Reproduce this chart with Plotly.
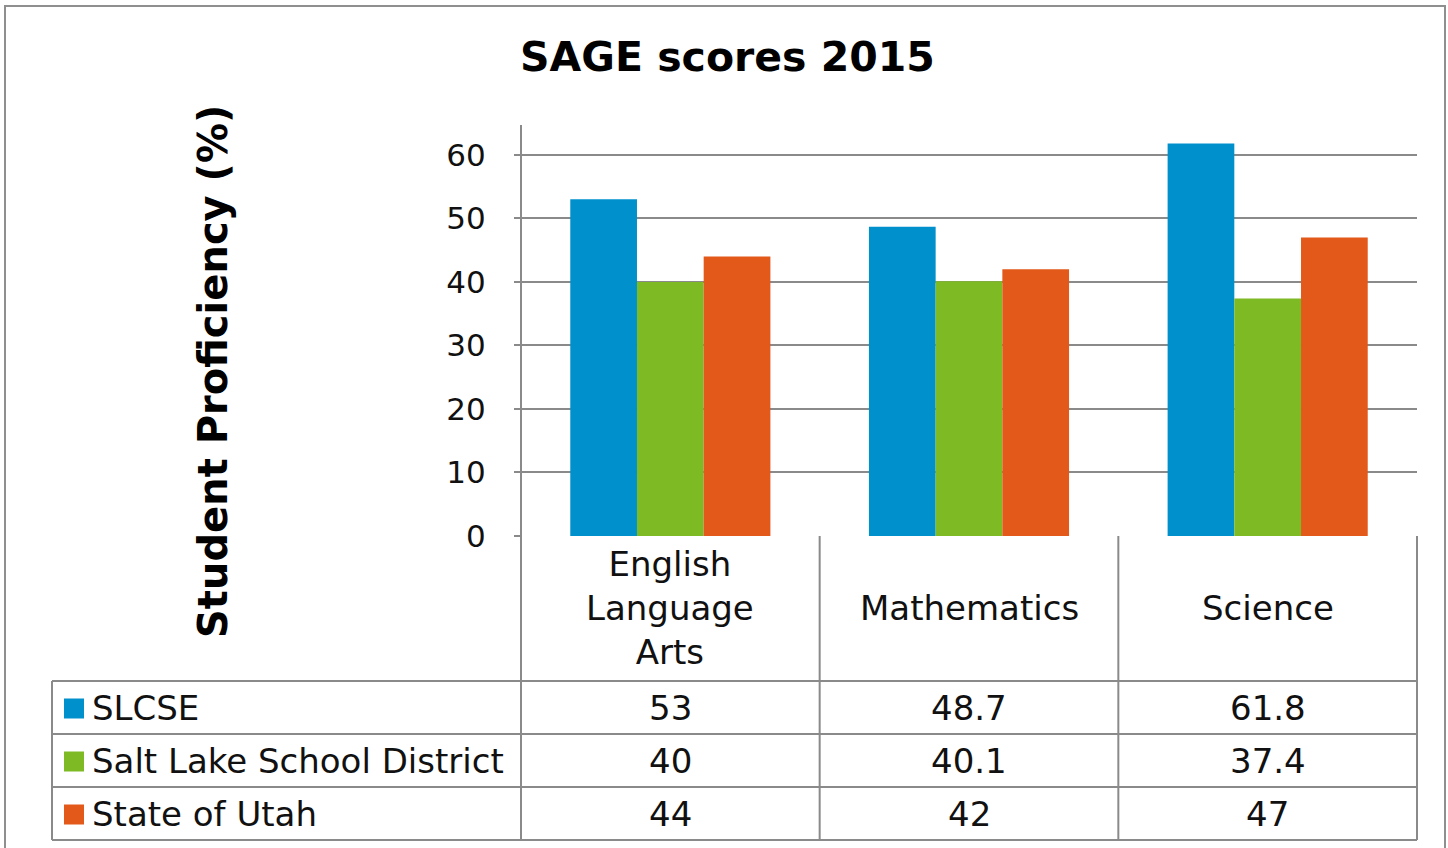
import plotly.graph_objects as go

# ---- data ----
categories = ["English Language Arts", "Mathematics", "Science"]
header_labels = ["English<br>Language<br>Arts", "Mathematics", "Science"]
series_names = ["SLCSE", "Salt Lake School District", "State of Utah"]
slcse = [53, 48.7, 61.8]
district = [40, 40.1, 37.4]
utah = [44, 42, 47]
series_values = [slcse, district, utah]
colors = ["#0090CC", "#7DBA24", "#E2591A"]
y_ticks = [0, 10, 20, 30, 40, 50, 60]

# ---- layout geometry (pixels) ----
W, H = 1448, 848
L, R, T, B = 521, 1417, 125, 536  # plot area
PW, PH = R - L, B - T
FONT = "DejaVu Sans"
GRID = "#8a8a8a"


def px(x):
    return (x - L) / PW


def py(y):
    return (B - y) / PH


fig = go.Figure()
for name, vals, col in zip(series_names, series_values, colors):
    fig.add_trace(go.Bar(x=categories, y=vals, name=name, marker=dict(color=col, line=dict(width=0))))

shapes = []
ann = []


def hline(x0, x1, y):
    shapes.append(dict(type="line", xref="paper", yref="paper", x0=px(x0), x1=px(x1), y0=py(y), y1=py(y),
                       line=dict(color=GRID, width=2)))


def vline(x, y0, y1):
    shapes.append(dict(type="line", xref="paper", yref="paper", x0=px(x), x1=px(x), y0=py(y0), y1=py(y1),
                       line=dict(color=GRID, width=2)))


# outer border
shapes.append(dict(type="rect", xref="paper", yref="paper", x0=px(5), x1=px(1445), y0=py(6), y1=py(870),
                   line=dict(color="#8f8f8f", width=2), fillcolor="rgba(0,0,0,0)"))

# data table grid
row_tops = [681, 734, 787, 840]
for y in row_tops:
    hline(52, R, y)
vline(52, 681, 840)
col_edges = [L + PW * i / len(categories) for i in range(len(categories) + 1)]
for x in col_edges:
    vline(x, B, 840)
vline(L, T, B)

TXT = 34
# header labels
for cat, lab in zip(categories, header_labels):
    ann.append(dict(x=cat, xref="x", y=py(608), yref="paper", text=lab, showarrow=False,
                    font=dict(family=FONT, size=TXT, color="#111"), xanchor="center", yanchor="middle"))

# rows
for i, (name, vals, col) in enumerate(zip(series_names, series_values, colors)):
    yc = (row_tops[i] + row_tops[i + 1]) / 2
    shapes.append(dict(type="rect", xref="paper", yref="paper", x0=px(64), x1=px(84),
                       y0=py(yc - 9), y1=py(yc + 11), fillcolor=col, line=dict(width=0)))
    ann.append(dict(x=px(90), xref="paper", y=py(yc), yref="paper", text=name, showarrow=False,
                    font=dict(family=FONT, size=TXT, color="#111"), xanchor="left", yanchor="middle"))
    for cat, v in zip(categories, vals):
        ann.append(dict(x=cat, xref="x", y=py(yc), yref="paper", text=f"{v:g}", showarrow=False,
                        font=dict(family=FONT, size=TXT, color="#111"), xanchor="center", yanchor="middle"))

# title and y label
ann.append(dict(x=px(727), xref="paper", y=py(57), yref="paper", text="<b>SAGE scores 2015</b>", showarrow=False,
                font=dict(family=FONT, size=41, color="#000"), xanchor="center", yanchor="middle"))
ann.append(dict(x=px(213), xref="paper", y=py(372), yref="paper", text="<b>Student Proficiency (%)</b>",
                showarrow=False, textangle=-90,
                font=dict(family=FONT, size=40, color="#000"), xanchor="center", yanchor="middle"))

fig.update_layout(
    width=W, height=H,
    margin=dict(l=L, r=W - R, t=T, b=H - B),
    paper_bgcolor="white", plot_bgcolor="white",
    barmode="group", bargap=0.33, bargroupgap=0,
    showlegend=False,
    shapes=shapes, annotations=ann,
    xaxis=dict(showticklabels=False, showgrid=False, zeroline=False, showline=False, ticks=""),
    yaxis=dict(range=[0, 64.7], tickvals=y_ticks, showgrid=True, gridcolor=GRID, gridwidth=2,
               zeroline=False, showline=False, ticks="outside", ticklen=6, tickcolor=GRID, tickwidth=2,
               ticklabelstandoff=22,
               tickfont=dict(family=FONT, size=31, color="#111")),
)

fig.write_html("out.html", config={"displayModeBar": False},
               post_script="document.body.style.margin='0px';")
